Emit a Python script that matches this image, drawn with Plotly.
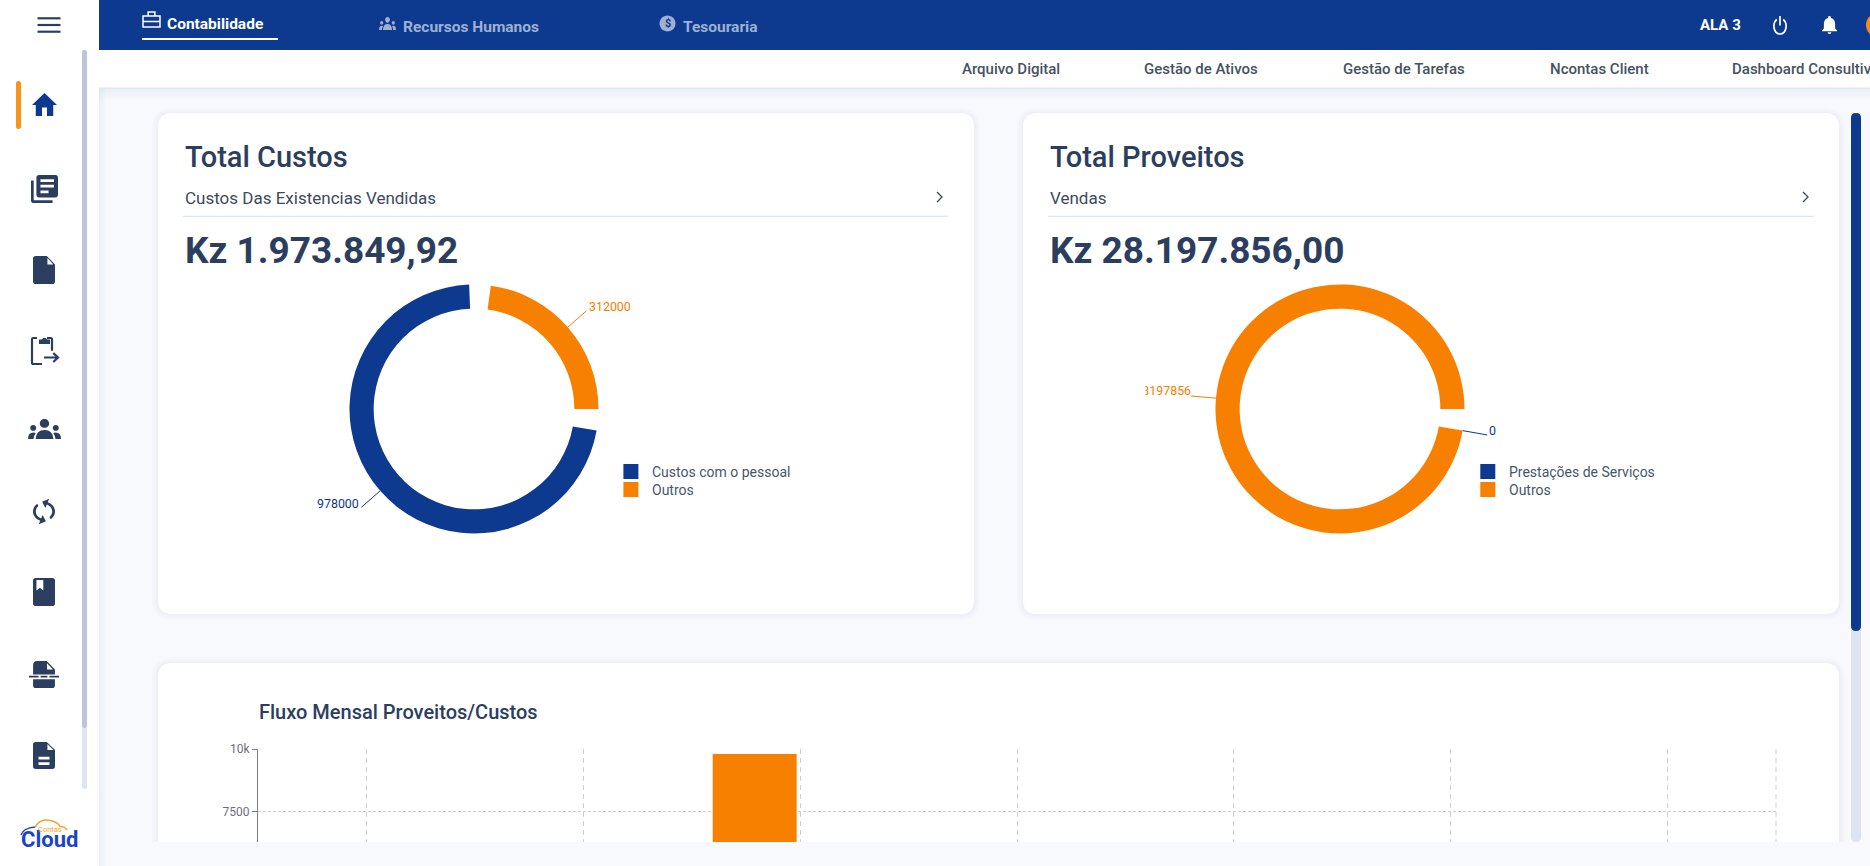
# plot.py - Contas Cloud dashboard recreated with plotly
import math
import re
import plotly.graph_objects as go

W, H = 1870, 866

NAVY = "#0d3a8f"
ORANGE = "#f88000"
SLATE = "#2b3e60"
MUTED = "#9fb0d2"
LEGEND_TEXT = "#44566c"
FONT = "Roboto"

# data
custos_labels = ["Custos com o pessoal", "Outros"]
custos_values = [978000, 312000]
proveitos_labels = ["Prestações de Serviços", "Outros"]
proveitos_values = [0, 28197856]
slice_colors = [NAVY, ORANGE]

meses = ["Jan", "Fev", "Mar", "Abr", "Mai", "Jun", "Jul"]
fluxo_proveitos = [0, 0, 9800, 0, 0, 0, 0]
fluxo_custos = [0, 0, 0, 0, 0, 0, 0]
fluxo_ticks = [7500, 10000]

top_tabs = ["Contabilidade", "Recursos Humanos", "Tesouraria"]
sub_menu = ["Arquivo Digital", "Gestão de Ativos", "Gestão de Tarefas", "Ncontas Client", "Dashboard Consultivo"]

# ring geometry, the slices start at 100 deg with a 10 deg pad
START = 100
PAD = 10
R = 124.5

shapes = []
notes = []


def rect(x0, y0, x1, y1, color, layer="below"):
    shapes.append(dict(type="rect", xref="x", yref="y", x0=x0, y0=y0, x1=x1, y1=y1,
                       fillcolor=color, line_width=0, layer=layer))


def round_box(x0, y0, x1, y1, r, color, layer="below", bottom=True):
    d = f"M{x0+r} {y0}L{x1-r} {y0}Q{x1} {y0} {x1} {y0+r}"
    if bottom:
        d += f"L{x1} {y1-r}Q{x1} {y1} {x1-r} {y1}L{x0+r} {y1}Q{x0} {y1} {x0} {y1-r}"
    else:
        d += f"L{x1} {y1}L{x0} {y1}"
    d += f"L{x0} {y0+r}Q{x0} {y0} {x0+r} {y0}Z"
    shapes.append(dict(type="path", xref="x", yref="y", path=d, fillcolor=color, line_width=0, layer=layer))


def card(x0, y0, x1, y1, bottom=True):
    for grow in (6, 4, 2):
        round_box(x0 - grow, y0 - grow + 1, x1 + grow, y1 + (grow if bottom else 0), 14 + grow,
                  "rgba(50,70,120,0.014)", bottom=bottom)
    round_box(x0, y0, x1, y1, 14, "white", bottom=bottom)


def text(x, y, s, size, color, weight=400, anchor="left"):
    notes.append(dict(xref="x", yref="y", x=x, y=y, text=s, showarrow=False, xanchor=anchor, yanchor="middle",
                      font=dict(family=FONT, size=size, color=color, weight=weight)))


def line(x0, y0, x1, y1, color, width=1.0):
    shapes.append(dict(type="line", xref="x", yref="y", x0=x0, y0=y0, x1=x1, y1=y1,
                       line=dict(color=color, width=width), layer="above"))


def icon(d, x0, y0, x1, y1, fill=None, stroke=None, width=2, box=None, turn=0):
    # scale an icon path, written with absolute pairs only, into a pixel box
    tokens = re.findall(r"[MLQCZ]|-?\d+\.?\d*", d)
    nums = [float(t) for t in tokens if t not in "MLQCZ"]
    xs, ys = nums[0::2], nums[1::2]
    bx0, by0, bx1, by1 = box if box else (min(xs), min(ys), max(xs), max(ys))
    a = math.radians(turn)
    out, i = "", 0
    for t in tokens:
        if t in "MLQCZ":
            out += t
        else:
            if i % 2 == 0:
                px, py = nums[i], nums[i + 1]
                rx = 12 + (px - 12) * math.cos(a) - (py - 12) * math.sin(a)
                ry = 12 + (px - 12) * math.sin(a) + (py - 12) * math.cos(a)
                out += f"{x0 + (rx - bx0) * (x1 - x0) / (bx1 - bx0):.2f} {y0 + (ry - by0) * (y1 - y0) / (by1 - by0):.2f} "
            i += 1
    shapes.append(dict(type="path", xref="x", yref="y", path=out, layer="above", fillrule="evenodd",
                       fillcolor=fill if fill else "rgba(0,0,0,0)",
                       line=dict(color=stroke if stroke else "rgba(0,0,0,0)", width=width if stroke else 0)))


def circle_d(cx, cy, r):
    return (f"M{cx-r} {cy}C{cx-r} {cy-r*0.55} {cx-r*0.55} {cy-r} {cx} {cy-r}C{cx+r*0.55} {cy-r} {cx+r} {cy-r*0.55} {cx+r} {cy}"
            f"C{cx+r} {cy+r*0.55} {cx+r*0.55} {cy+r} {cx} {cy+r}C{cx-r*0.55} {cy+r} {cx-r} {cy+r*0.55} {cx-r} {cy}Z")


HOME = "M10 21L10 14L14 14L14 21L19 21L19 12L22 12L12 2L2 12L5 12L5 21Z"
LIBRARY = ("M2 6L4 6L4 20L18 20L18 22L4 22Q2 22 2 20Z M8 2L20 2Q22 2 22 4L22 16Q22 18 20 18L8 18Q6 18 6 16L6 4Q6 2 8 2Z "
           "M9 5L9 7L19 7L19 5Z M9 9L9 11L19 11L19 9Z M9 13L9 15L15 15L15 13Z")
FILE = "M6 2L14 2L20 8L20 20Q20 22 18 22L6 22Q4 22 4 20L4 4Q4 2 6 2Z M14.5 3.5L14.5 8L18.8 8Z"
BOOK = "M6 2L18 2Q20 2 20 4L20 20Q20 22 18 22L6 22Q4 22 4 20L4 4Q4 2 6 2Z M6.5 3.5L6.5 11L9 9L11.5 11L11.5 3.5Z"
STRIKE = ("M7 1L14 1L20 7L20 10.5L4 10.5L4 4Q4 1 7 1Z M14.2 2.6L14.2 7L18.6 7Z M1 11.4L8 11.4L8 12.6L1 12.6Z "
          "M9.5 11.4L14.5 11.4L14.5 12.6L9.5 12.6Z M16 11.4L23 11.4L23 12.6L16 12.6Z M4 13.8L20 13.8L20 18Q20 20 18 20L6 20Q4 20 4 18Z")
DESC = FILE + " M8 13L16 13L16 15L8 15Z M8 17L16 17L16 19L8 19Z"
SYNC = ("M12 4L12 1L8 5L12 9L12 6C15.31 6 18 8.69 18 12C18 13.01 17.75 13.97 17.3 14.8L18.76 16.26C19.54 15.03 20 13.57 20 12"
        "C20 7.58 16.42 4 12 4Z M12 18C8.69 18 6 15.31 6 12C6 10.99 6.25 10.03 6.7 9.2L5.24 7.74C4.46 8.97 4 10.43 4 12"
        "C4 16.42 7.58 20 12 20L12 23L16 19L12 15Z")
GROUP = (circle_d(12, 6, 3.4) + " " + circle_d(3.8, 9.5, 2.2) + " " + circle_d(20.2, 9.5, 2.2) +
         " M5.5 18Q6 11 12 11Q18 11 18.5 18Z M0 18Q0 13 4 13Q5 13 5.6 13.6Q4.2 15.5 4 18Z M24 18Q24 13 20 13Q19 13 18.4 13.6Q19.8 15.5 20 18Z")
BELL = ("M12 2Q13.5 2 13.5 3.5L13.5 4.2Q18 5.5 18 11L18 16L20 18L20 19L4 19L4 18L6 16L6 11Q6 5.5 10.5 4.2L10.5 3.5Q10.5 2 12 2Z "
        "M10 20L14 20Q14 22 12 22Q10 22 10 20Z")


def ring_slices(labels, values, colors):
    # echarts style pad: each non zero slice is followed by an empty one
    n = sum(1 for v in values if v > 0)
    span = 360 - PAD * n
    total = sum(values)
    gap = total * PAD / span
    pie_labels, pie_values, pie_colors, mids = [], [], [], []
    angle = START
    for i, (lab, v, c) in enumerate(zip(labels, values, colors)):
        sweep = v / total * span
        mids.append(angle + sweep / 2)
        angle += sweep
        pie_labels.append(lab)
        pie_values.append(v)
        pie_colors.append(c)
        if v > 0:
            pie_labels.append(f"pad{i}")
            pie_values.append(gap)
            pie_colors.append("rgba(0,0,0,0)")
            angle += PAD
    return pie_labels, pie_values, pie_colors, mids


def donut(cx, cy, labels, values):
    pie_labels, pie_values, pie_colors, mids = ring_slices(labels, values, slice_colors)
    trace = go.Pie(labels=pie_labels, values=pie_values, marker=dict(colors=pie_colors, line=dict(width=0)),
                   hole=0.806, sort=False, direction="clockwise", rotation=START, textinfo="none",
                   hoverinfo="skip", showlegend=False, automargin=False,
                   domain=dict(x=[(cx - R) / W, (cx + R) / W], y=[1 - (cy + R) / H, 1 - (cy - R) / H]))
    leaders = []
    for mid, c in zip(mids, slice_colors):
        s, co = math.sin(math.radians(mid)), math.cos(math.radians(mid))
        x0, y0 = cx + R * s, cy - R * co
        x1, y1 = cx + (R + 25) * s, cy - (R + 25) * co
        line(x0, y0, x1, y1, c)
        leaders.append((x1, y1, s))
    return trace, leaders


def legend(x, labels):
    for i, lab in enumerate(labels):
        rect(x, 464 + 18 * i, x + 15, 479 + 18 * i, slice_colors[i], layer="above")
        text(x + 27, 471.5 + 18 * i, lab, 14, LEGEND_TEXT)


# page frame
for i in range(8):
    rect(99, 88, 1870, 100 - i * 1.5, "rgba(60,80,130,0.008)")
    rect(99, 88, 106 - i * 0.8, 866, "rgba(60,80,130,0.008)")
rect(0, 0, 99, H, "white")
rect(99, 0, W, 50, NAVY)
rect(99, 50, W, 88, "white")
rect(99, 87.5, W, 89, "#dde8fa")

card(158, 113, 974, 614)
card(1023, 113, 1839, 614)
card(158, 663, 1839, 842, bottom=False)

# scrollbars
round_box(82, 50, 87, 789, 2.5, "#e0e6f1")
round_box(82, 50, 87, 728, 2.5, "#bcc6d8")
round_box(1851, 113, 1861, 842, 5, "#dde3f0")
round_box(1851, 113, 1861, 631, 5, NAVY)
round_box(16, 81, 21, 129, 2.5, "#f7941d")

# left menu
for y in (18.3, 25, 31.7):
    rect(37.5, y - 1.1, 60.5, y + 1.1, SLATE, layer="above")
icon(HOME, 32, 93, 57, 116, fill=NAVY)
icon(LIBRARY, 31, 175, 58, 203, fill=SLATE)
icon(FILE, 33, 256, 55, 284, fill=SLATE)
icon("M8 3.5L5 3.5Q4 3.5 4 4.5L4 20Q4 21 5 21L12 21 M16 3.5L19 3.5Q20 3.5 20 4.5L20 12", 32, 338, 52, 364, stroke=SLATE, width=2.2)
icon("M8 2L10 2Q12 -1 14 2L16 2L16 6L8 6Z", 39, 336, 50, 344, fill=SLATE)
icon("M13 17L22 17 M19 14L22 17L19 20", 44, 353, 58, 362, stroke=SLATE, width=2.2)
icon(GROUP, 28, 419, 61, 439, fill=SLATE)
icon(SYNC, 33, 498, 55, 525, fill=SLATE, turn=20)
icon(BOOK, 33, 578, 55, 606, fill=SLATE)
icon(STRIKE, 29, 661, 59, 688, fill=SLATE)
icon(DESC, 33, 742, 55, 769, fill=SLATE)

# logo
icon("M22 835Q24 828 35 827", 21, 827, 35, 835, stroke="#1a44c8", width=1.3)
icon("M35 827Q40 816 50 819Q58 821 60 826Q65 826 67 830", 35, 818, 67, 830, stroke="#f7a32b", width=1.5)
text(18.5, 839, "Cloud", 22, "#1a44c8", weight=700)
text(36, 829, "Contas", 7.5, "#f7a32b")

# top bar
icon("M2 8L22 8L22 22L2 22Z M8 8L8 3L16 3L16 8 M2 15L22 15", 143, 12, 160, 27, stroke="white", width=1.5)
text(165, 23.5, top_tabs[0], 15.5, "white", weight=700)
rect(142, 38, 278, 40, "white", layer="above")
icon(GROUP, 379, 17, 396, 30, fill=MUTED)
text(401, 27, top_tabs[1], 15.5, MUTED, weight=700)
icon(circle_d(12, 12, 10), 659.5, 15.5, 675.5, 31.5, fill=MUTED)
text(667.5, 23.5, "$", 11, NAVY, weight=700, anchor="center")
text(680.5, 27, top_tabs[2], 15.5, MUTED, weight=700)

text(1697.5, 25, "ALA 3", 15, "white", weight=700)
icon("M7.5 5.5C1 10 3 21 12 21C21 21 23 10 16.5 5.5 M12 2L12 12", 1772, 16, 1788, 34, stroke="white", width=1.7)
icon(BELL, 1822, 16, 1837, 34, fill="white")
shapes.append(dict(type="circle", xref="x", yref="y", x0=1866, y0=13, x1=1890, y1=37, fillcolor="#f08a24",
                   line_width=0, layer="above"))

for x, s in zip((960, 1142, 1341, 1548, 1730), sub_menu):
    text(x, 68.5, s, 15, "#47525f", weight=500)

# card headers
for x, title, sub, total, right in (
    (183, "Total Custos", "Custos Das Existencias Vendidas", "Kz 1.973.849,92", 948),
    (1048, "Total Proveitos", "Vendas", "Kz 28.197.856,00", 1814),
):
    text(x, 157, title, 29, SLATE, weight=500)
    text(x, 197.5, sub, 17, "#3c4a5e")
    rect(x, 215.7, right, 216.9, "#dbe7f8")
    text(x, 250, total, 37, SLATE, weight=700)
    icon("M1 1L5 5L1 9", right - 11, 192, right - 6, 202, stroke="#3c4a5e", width=1.3)

fig = go.Figure()

# full page axes come first, so the cards sit under the bar chart
fig.add_trace(go.Scatter(x=[None], y=[None], xaxis="x", yaxis="y", showlegend=False, hoverinfo="skip"))

# donuts
pie_custos, lead_custos = donut(474, 409, custos_labels, custos_values)
pie_proveitos, lead_proveitos = donut(1340, 409, proveitos_labels, proveitos_values)
fig.add_trace(pie_custos)
fig.add_trace(pie_proveitos)
legend(623.4, custos_labels)
legend(1480.3, proveitos_labels)

for (x, y, s), v, c in zip(lead_custos, custos_values, slice_colors):
    if s > 0:
        text(x, y - 4, str(v), 12.4, c)
    else:
        text(x, y - 4, str(v), 12.4, c, anchor="right")
text(lead_proveitos[0][0], lead_proveitos[0][1] - 4, str(proveitos_values[0]), 12.4, slice_colors[0])

# the long label is cut by the left edge of the chart box, a clipped text trace does the same
clip_left = 1145.5
clip_right = 1200
fig.add_trace(go.Scatter(x=[lead_proveitos[1][0]], y=[lead_proveitos[1][1] - 4], mode="text", xaxis="x3", yaxis="y3",
                         text=[str(proveitos_values[1])], textposition="middle left", cliponaxis=True,
                         textfont=dict(family=FONT, size=12.4, color=slice_colors[1]), showlegend=False, hoverinfo="skip"))

# monthly flow
plot_left, plot_right, plot_top, plot_bottom = 258, 1776, 749, 842
fig.add_trace(go.Bar(x=meses, y=fluxo_proveitos, xaxis="x2", yaxis="y2", marker=dict(color=ORANGE, line_width=0),
                     width=84 / 217, offset=-87.5 / 217, showlegend=False, hoverinfo="skip"))
fig.add_trace(go.Bar(x=meses, y=fluxo_custos, xaxis="x2", yaxis="y2", marker=dict(color=NAVY, line_width=0),
                     width=84 / 217, offset=0, showlegend=False, hoverinfo="skip"))
text(257, 712, "Fluxo Mensal Proveitos/Custos", 20, SLATE, weight=500)
shapes.append(dict(type="line", xref="x", yref="y", x0=plot_right, x1=plot_right, y0=plot_top, y1=plot_bottom,
                   line=dict(color="#cfcfcf", width=1, dash="5px,4px"), layer="below"))

px_per_unit = 62.7 / 2500

fig.update_layout(
    width=W, height=H, autosize=False, template="none",
    margin=dict(l=0, r=0, t=0, b=0, pad=0),
    paper_bgcolor="#f8f9fd", plot_bgcolor="rgba(0,0,0,0)",
    font=dict(family=FONT),
    barmode="group",
    shapes=shapes, annotations=notes,
    xaxis=dict(domain=[0, 1], range=[0, W], visible=False, fixedrange=True),
    yaxis=dict(domain=[0, 1], range=[H, 0], visible=False, fixedrange=True),
    xaxis2=dict(domain=[plot_left / W, plot_right / W], range=[-0.5, 6.5], anchor="y2", type="category",
                categoryorder="array", categoryarray=meses, showticklabels=False, ticks="",
                showline=False, zeroline=False, showgrid=True,
                gridcolor="#cfcfcf", griddash="5px,4px", gridwidth=1, fixedrange=True),
    yaxis2=dict(domain=[1 - plot_bottom / H, 1 - plot_top / H],
                range=[10000 - (plot_bottom - plot_top) / px_per_unit, 10000], anchor="x2",
                tickvals=fluxo_ticks, ticks="outside", ticklen=5, tickcolor="#7f7f7f", showline=True,
                linecolor="#7f7f7f", linewidth=1, zeroline=False, showgrid=True, gridcolor="#cfcfcf",
                griddash="3px,2px", gridwidth=1, tickfont=dict(family=FONT, size=12, color="#6e7079"), fixedrange=True),
    xaxis3=dict(domain=[clip_left / W, clip_right / W], range=[clip_left, clip_right], anchor="y3",
                visible=False, fixedrange=True),
    yaxis3=dict(domain=[1 - 410 / H, 1 - 375 / H], range=[410, 375], anchor="x3", visible=False, fixedrange=True),
)

fig.write_html("out.html", config={"displayModeBar": False},
               post_script="document.body.style.margin='0';document.body.style.overflow='hidden';")
